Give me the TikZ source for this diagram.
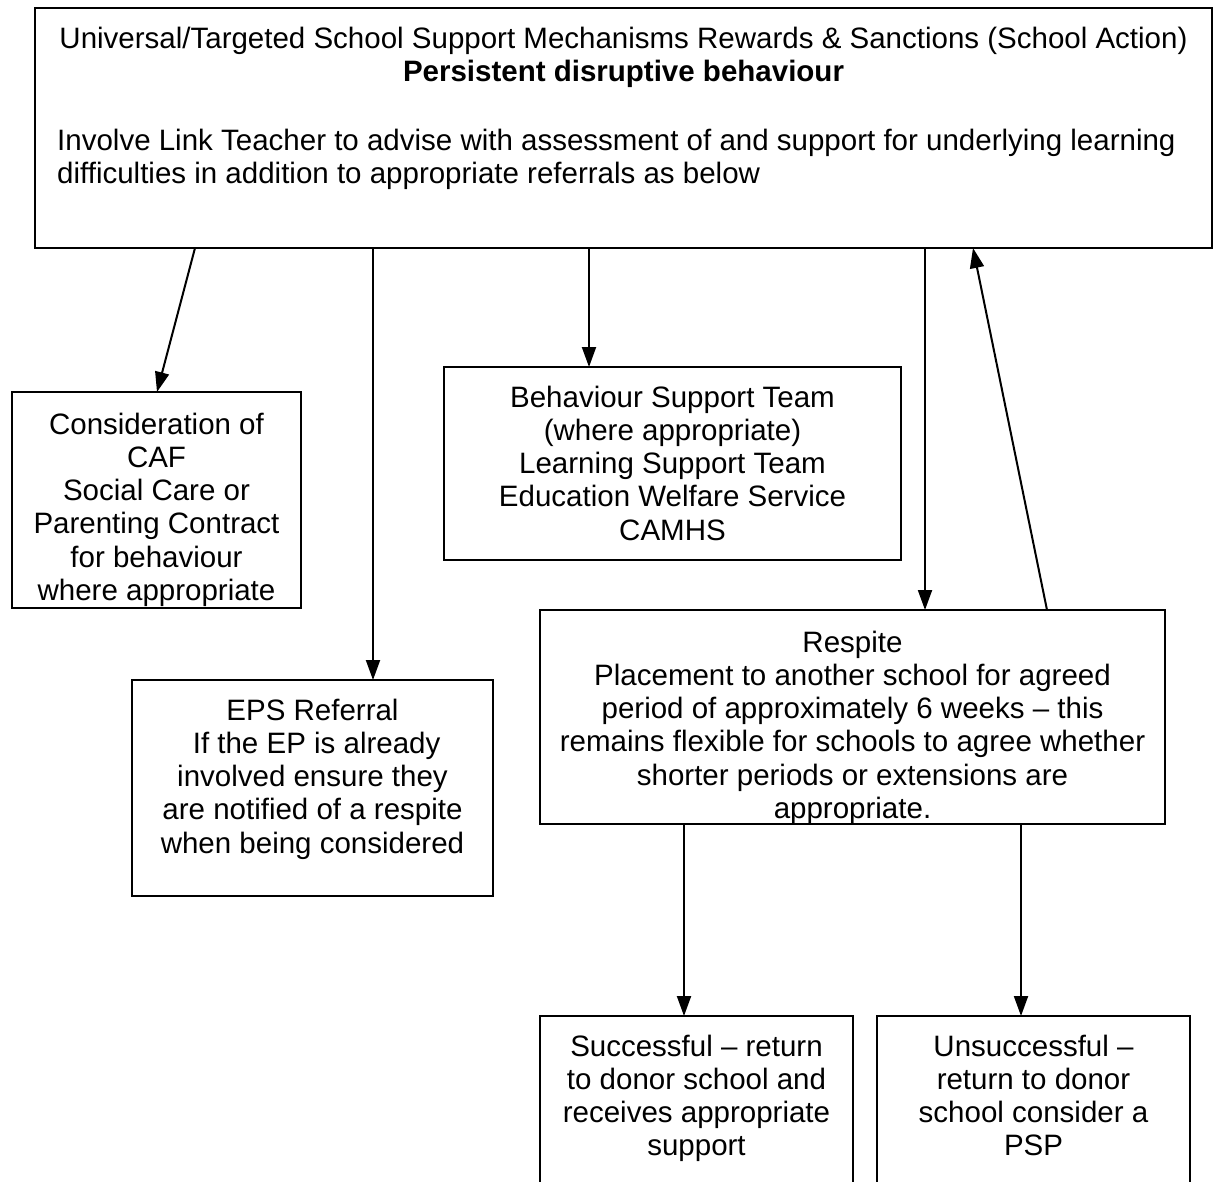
\documentclass[tikz,border=0pt]{standalone}
\usepackage{fontspec}
\setmainfont{Liberation Sans}
\usetikzlibrary{arrows.meta, positioning}

\begin{document}
\begin{tikzpicture}[x=1pt, y=-1pt, node distance=24pt,
    font=\fontsize{29.5}{33.2}\selectfont,
    box/.style={draw, line width=2.2pt, inner sep=0pt, outer sep=0pt},
    boxtext/.style={align=center, inner sep=0pt, anchor=north},
    arrow/.style={-{Triangle[length=20pt, width=14pt]}, line width=2pt}]
  \clip (0,0) rectangle (1214,1181);

  % boxes
  \node [box, minimum width=1177pt, minimum height=240pt] (top) at (623.5,128) {};
  \node [box, minimum width=289pt, minimum height=216pt] (caf) at (156.5,500) {};
  \node [box, minimum width=457pt, minimum height=193pt] (bst) at (672.5,463.5) {};
  \node [box, minimum width=361pt, minimum height=216pt] (eps) at (312.5,788) {};
  \node [box, minimum width=625pt, minimum height=214pt] (resp) at (852.5,717) {};
  \node [box, minimum width=313pt, minimum height=220pt] (succ) at (696.5,1126) {};
  \node [box, minimum width=313pt, minimum height=220pt, right=of succ] (unsucc) {};

  % texts
  \node [boxtext] (toptitle) at ([yshift=-16.8pt]top.north) {\strut Universal/Targeted School Support Mechanisms Rewards \& Sanctions (School Action)\\ \textbf{Persistent disruptive behaviour}};
  \node [boxtext, align=left, anchor=north west] (topbody) at ([xshift=22pt, yshift=-118.8pt]top.north west) {\strut Involve Link Teacher to advise with assessment of and support for underlying learning\\ difficulties in addition to appropriate referrals as below};
  \begin{scope}
    \clip (caf.south west) rectangle (caf.north east);
    \node [boxtext] (caftext) at ([yshift=-18.8pt]caf.north) {\strut Consideration of\\ CAF\\ Social Care or\\ Parenting Contract\\ for behaviour\\ where appropriate};
  \end{scope}
  \node [boxtext] (bsttext) at ([yshift=-16.8pt]bst.north) {\strut Behaviour Support Team\\ (where appropriate)\\ Learning Support Team\\ Education Welfare Service\\ CAMHS};
  \node [boxtext] (epstext) at ([yshift=-16.8pt]eps.north) {\strut EPS Referral\\ \ If the EP is already\\ involved ensure they\\ are notified of a respite\\ when being considered};
  \begin{scope}
    \clip (resp.south west) rectangle (resp.north east);
    \node [boxtext] (resptext) at ([yshift=-18.8pt]resp.north) {\strut Respite\\ Placement to another school for agreed\\ period of approximately 6 weeks – this\\ remains flexible for schools to agree whether\\ shorter periods or extensions are\\ appropriate.};
  \end{scope}
  \node [boxtext] (succtext) at ([yshift=-16.8pt]succ.north) {\strut Successful – return\\ to donor school and\\ receives appropriate\\ support};
  \node [boxtext] (unsucctext) at ([yshift=-16.8pt]unsucc.north) {\strut Unsuccessful –\\ return to donor\\ school consider a\\ PSP};

  % arrows
  \draw [arrow] ([xshift=160pt]top.south west) -- ([xshift=145pt]caf.north west);
  \draw [arrow] ([xshift=-250.5pt]top.south) -- ([xshift=60.5pt]eps.north);
  \draw [arrow] ([xshift=-34.5pt]top.south) -- ([xshift=-83.5pt]bst.north);
  \draw [arrow] ([xshift=301.5pt]top.south) -- ([xshift=72.5pt]resp.north);
  \draw [arrow] ([xshift=194.5pt]resp.north) -- ([xshift=349.5pt]top.south);
  \draw [arrow] ([xshift=-168.5pt]resp.south) -- ([xshift=-12.5pt]succ.north);
  \draw [arrow] ([xshift=168.5pt]resp.south) -- ([xshift=-12.5pt]unsucc.north);
\end{tikzpicture}
\end{document}
